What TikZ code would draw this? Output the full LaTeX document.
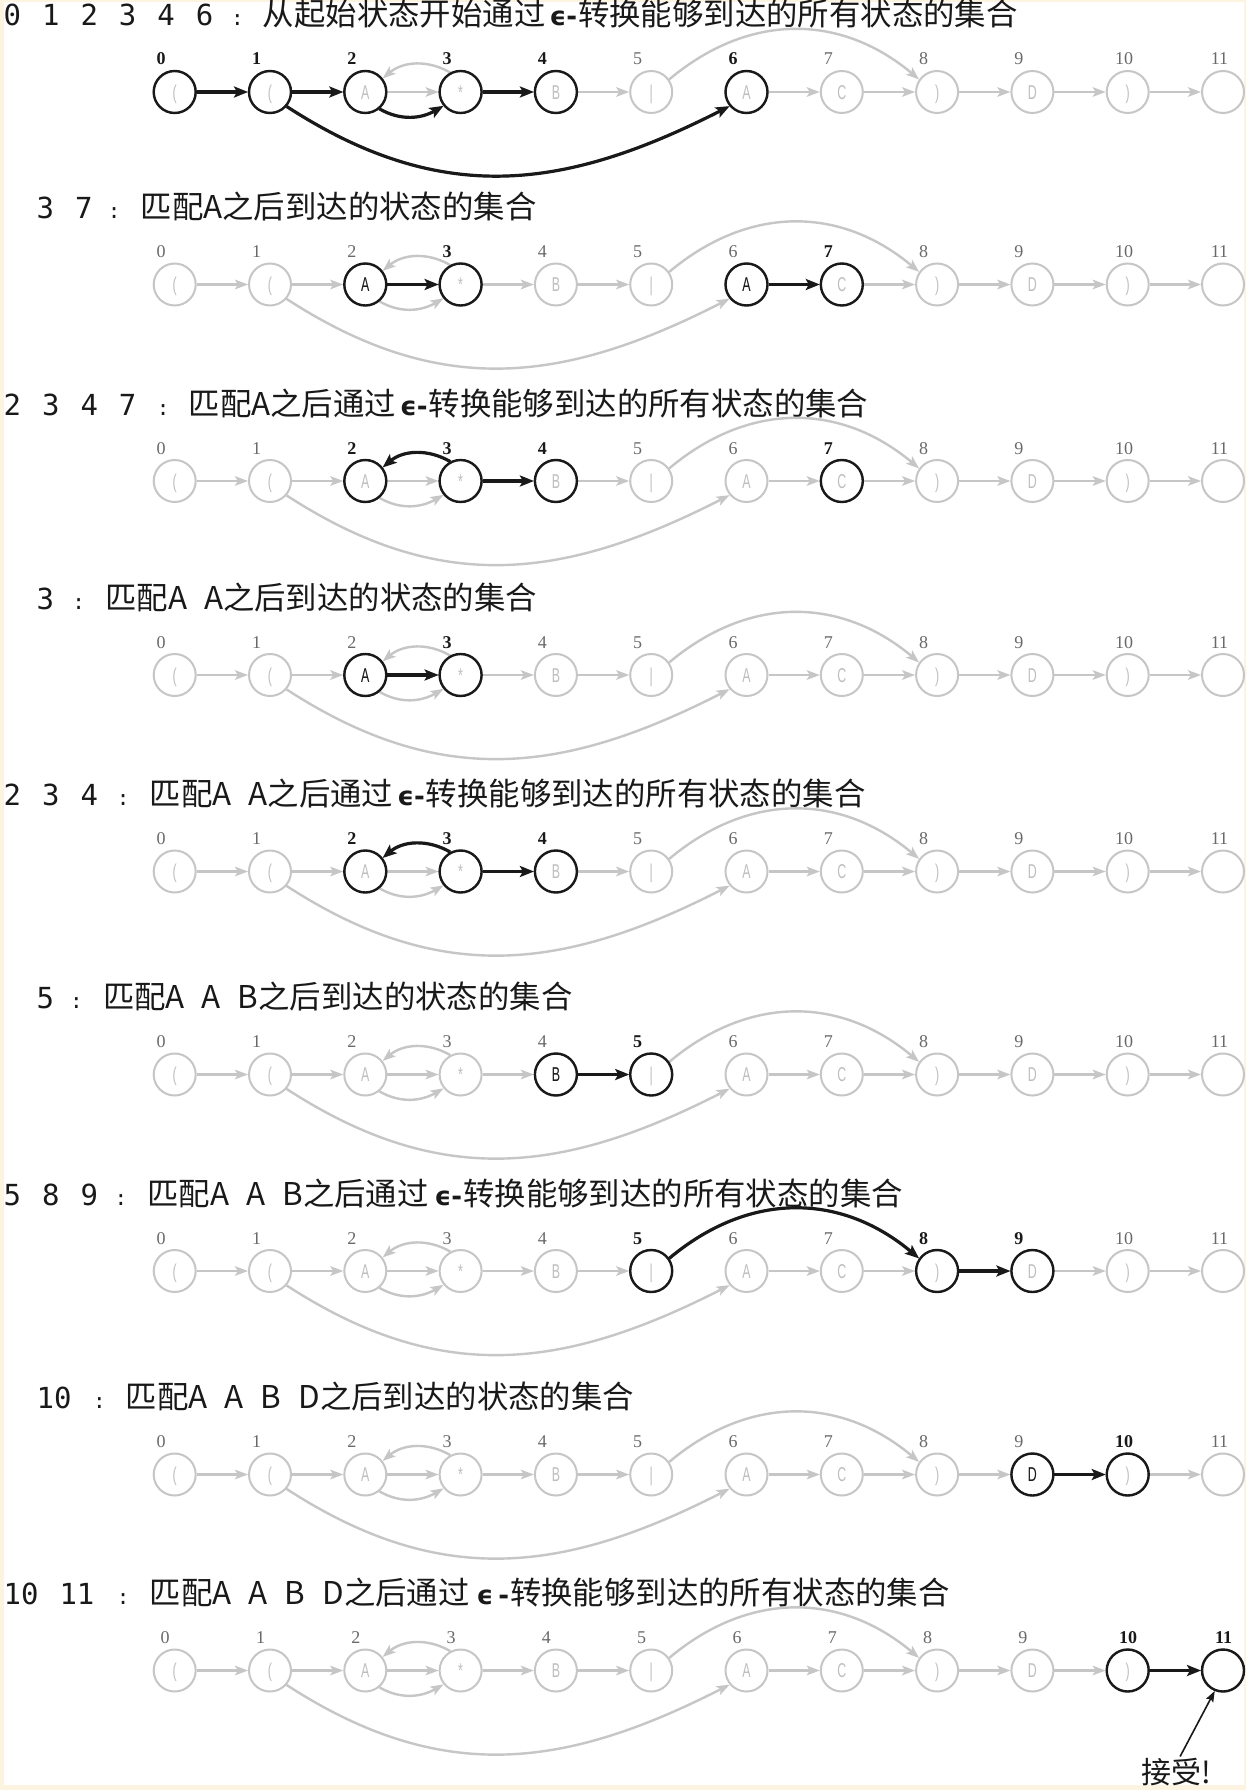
\documentclass[tikz,border=0pt]{standalone}
\usepackage{fontspec}
\setmainfont{Liberation Serif}
\newfontfamily\cjkf{Noto Sans CJK SC}
\newfontfamily\monof{DejaVu Sans Mono}
\newfontfamily\epsff{DejaVu Sans}
\newfontfamily\labf{Liberation Serif}
\newfontfamily\stf[FakeStretch=0.62]{Liberation Sans}
\usetikzlibrary{arrows.meta}
\definecolor{cream}{RGB}{252,243,224}
\definecolor{lgray}{RGB}{198,198,198}
\definecolor{cgray}{RGB}{190,190,190}
\definecolor{dgray}{RGB}{105,105,105}
\definecolor{ink}{RGB}{25,25,25}
\newcommand\myeps{\begingroup\epsff\bfseries\fontsize{26}{26}\selectfont ϵ-\endgroup}
\newcommand\myepsB{\begingroup\epsff\bfseries\fontsize{26}{26}\selectfont ϵ\kern5pt-\endgroup}
\newcommand\sgap{\kern17pt}
\newcommand\nsp{\kern21pt}
\tikzset{
  st/.style={circle, draw=lgray, line width=2pt, minimum size=42pt, inner sep=0pt,
    font=\stf\fontsize{20}{20}\selectfont, text=cgray, text height=14.4pt, text depth=0pt},
  hst/.style={st, draw=ink, line width=2.4pt},
  ge/.style={draw=lgray, line width=2.4pt, -{Stealth[length=13pt,width=9.5pt,inset=3pt]}},
  be/.style={draw=ink, line width=3.2pt, -{Stealth[length=14pt,width=11pt,inset=3pt]}},
  lab/.style={anchor=base, inner sep=0pt, font=\labf\fontsize{18}{18}\selectfont, text=dgray},
  blab/.style={lab, font=\labf\bfseries\fontsize{18}{18}\selectfont, text=ink},
  numst/.style={anchor=base west, inner sep=0pt, font=\monof\fontsize{29}{29}\selectfont, text=ink},
  colst/.style={anchor=base, inner sep=0pt, font=\monof\fontsize{21}{21}\selectfont, text=ink},
  cjkst/.style={anchor=base west, inner sep=0pt, font=\cjkf\fontsize{31.4}{31.4}\selectfont, text=ink},
  accst/.style={anchor=base west, inner sep=1pt, font=\cjkf\fontsize{30}{30}\selectfont, text=ink},
}
% row graph: #1 row, #2 y (px from top)
\newcommand\basegraph[2]{%
  \foreach \i/\c in {0/{(},1/{(},2/A,3/{*},4/B,5/{|},6/A,7/C,8/{)},9/D,10/{)},11/{}} {
    \node[st] (n#1-\i) at ({174.7+95.3*\i},-#2) {\c};
  }
  \foreach \a/\b in {0/1,1/2,2/3,3/4,4/5,6/7,7/8,8/9,9/10,10/11}
    \draw[ge] (n#1-\a) -- (n#1-\b);
  \draw[ge] (n#1-3.118) to[out=150,in=40] (n#1-2.38);
  \draw[ge] (n#1-2.310) to[out=-30,in=210] (n#1-3.219);
  \draw[ge] (n#1-1.319) to[out=-33,in=207,looseness=1.07] (n#1-6.220);
  \draw[ge] (n#1-5.35) to[out=40,in=140,looseness=1.06] (n#1-8.145);
}
% labels: #1 row, #2 y, #3 x shift, #4 bold list
\newcommand\rowlabels[4]{%
  \foreach \i in {0,...,11} {
    \gdef\isb{0}
    \foreach \j in {#4} {\ifnum\i=\j\relax\gdef\isb{1}\fi}
    \pgfmathsetmacro\lx{174.7+95.3*\i+(\i<10 ? -13.5 : -3.5)+#3}
    \ifnum\isb=1
      \node[blab] (l#1-\i) at (\lx,27-#2) {\i};
    \else
      \node[lab] (l#1-\i) at (\lx,27-#2) {\i};
    \fi
  }
}
\newcommand\ttl[7]{%
  \node[numst] (t#1) at (#3,66-#2) {#4};
  \node[colst] (c#1) at (#5,66-#2) {:};
  \node[cjkst] (k#1) at (#6,66-#2) {#7};
}
\newcommand\hilite[2]{\node[hst] (h#1-#2) at (n#1-#2) {};}
\newcommand\hilitec[3]{\node[hst,text=ink] (h#1-#2) at (n#1-#2) {#3};}
\begin{document}
\begin{tikzpicture}[x=1pt,y=1pt]
\fill[cream] (0,0) rectangle (1246,-1790);
\fill[white] (4,-2) rectangle (1244,-1785);
\useasboundingbox (0,0) rectangle (1246,-1790);

% ---------- row 1
\ttl{1}{92}{3.4}{0\nsp 1\nsp 2\nsp 3\nsp 4\nsp 6}{237.5}{262.7}{从起始状态开始通过\kern4pt\myeps\kern1pt 转换能够到达的所有状态的集合}
\basegraph{1}{92}
\rowlabels{1}{92}{0}{0,1,2,3,4,6}
\draw[be] (n1-0) -- (n1-1);
\draw[be] (n1-1) -- (n1-2);
\draw[be] (n1-2.310) to[out=-30,in=210] (n1-3.219);
\draw[be] (n1-3) -- (n1-4);
\draw[be] (n1-1.319) to[out=-33,in=207,looseness=1.07] (n1-6.220);
\foreach \k in {0,1,2,3,4,6} {\hilite{1}{\k}}

% ---------- row 2
\ttl{2}{284.5}{36.5}{3\nsp 7}{114.2}{140.5}{匹配A之后到达的状态的集合}
\basegraph{2}{284.5}
\rowlabels{2}{284.5}{0}{3,7}
\draw[be] (n2-2) -- (n2-3);
\draw[be] (n2-6) -- (n2-7);
\hilitec{2}{2}{A}
\hilite{2}{3}
\hilitec{2}{6}{A}
\hilite{2}{7}

% ---------- row 3
\ttl{3}{481}{3.4}{2\nsp 3\nsp 4\nsp 7}{163.3}{188.4}{匹配A之后通过\kern4pt\myeps\kern1pt 转换能够到达的所有状态的集合}
\basegraph{3}{481}
\rowlabels{3}{481}{0}{2,3,4,7}
\draw[be] (n3-3.118) to[out=150,in=40] (n3-2.38);
\draw[be] (n3-3) -- (n3-4);
\foreach \k in {2,3,4,7} {\hilite{3}{\k}}

% ---------- row 4
\ttl{4}{675}{36.5}{3}{78.8}{105}{匹配A\sgap A之后到达的状态的集合}
\basegraph{4}{675}
\rowlabels{4}{675}{0}{3}
\draw[be] (n4-2) -- (n4-3);
\hilitec{4}{2}{A}
\hilite{4}{3}

% ---------- row 5
\ttl{5}{871.5}{3.4}{2\nsp 3\nsp 4}{123.3}{149.6}{匹配A\sgap A之后通过\kern4pt\myeps\kern1pt 转换能够到达的所有状态的集合}
\basegraph{5}{871.5}
\rowlabels{5}{871.5}{0}{2,3,4}
\draw[be] (n5-3.118) to[out=150,in=40] (n5-2.38);
\draw[be] (n5-3) -- (n5-4);
\foreach \k in {2,3,4} {\hilite{5}{\k}}

% ---------- row 6
\ttl{6}{1074.5}{36.5}{5}{76.5}{102.8}{匹配A\sgap A\sgap B之后到达的状态的集合}
\basegraph{6}{1074.5}
\rowlabels{6}{1074.5}{0}{5}
\draw[be] (n6-4) -- (n6-5);
\hilitec{6}{4}{B}
\hilite{6}{5}

% ---------- row 7
\ttl{7}{1271}{3.4}{5\nsp 8\nsp 9}{121}{147.3}{匹配A\sgap A\sgap B之后通过\kern6pt\myeps\kern1pt 转换能够到达的所有状态的集合}
\basegraph{7}{1271}
\rowlabels{7}{1271}{0}{5,8,9}
\draw[be] (n7-5.35) to[out=40,in=140,looseness=1.06] (n7-8.145);
\draw[be] (n7-8) -- (n7-9);
\foreach \k in {5,8,9} {\hilite{7}{\k}}

% ---------- row 8
\ttl{8}{1474.5}{36.5}{10}{99.4}{125.6}{匹配A\sgap A\sgap B\sgap D之后到达的状态的集合}
\basegraph{8}{1474.5}
\rowlabels{8}{1474.5}{0}{10}
\draw[be] (n8-9) -- (n8-10);
\hilitec{8}{9}{D}
\hilite{8}{10}

% ---------- row 9
\ttl{9}{1670.5}{3.4}{10\nsp 11}{123.3}{149.6}{匹配A\sgap A\sgap B\sgap D之后通过\kern7pt\myepsB\kern1pt 转换能够到达的所有状态的集合}
\basegraph{9}{1670.5}
\rowlabels{9}{1670.5}{4}{10,11}
\draw[be] (n9-10) -- (n9-11);
\hilite{9}{10}
\hilite{9}{11}

\node[accst] (acc) at (1140,-1783) {接受!};
\draw[ink, line width=1.6pt, -{Stealth[length=11pt,width=8pt,inset=2pt]}] (acc.75) -- (n9-11.248);
\end{tikzpicture}
\end{document}
